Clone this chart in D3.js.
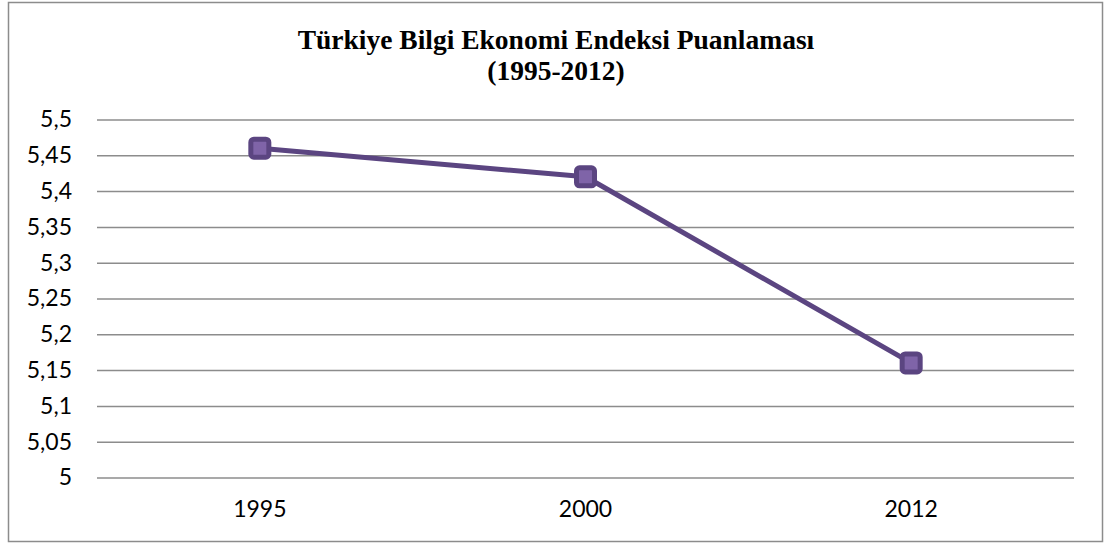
<!DOCTYPE html>
<html><head><meta charset="utf-8">
<script src="https://cdn.jsdelivr.net/npm/d3@7/dist/d3.min.js"></script>
<style>body{margin:0;background:#fff;}svg{display:block;}</style>
</head><body>
<svg id="c" width="1109" height="545"></svg>
<script>
const categories = ["1995", "2000", "2012"];
const values = [5.46, 5.42, 5.16];
const yTicks = [5, 5.05, 5.1, 5.15, 5.2, 5.25, 5.3, 5.35, 5.4, 5.45, 5.5];
const titleLines = ["Türkiye Bilgi Ekonomi Endeksi Puanlaması", "(1995-2012)"];

const svg = d3.select("#c");
svg.append("rect").attr("x", 8.5).attr("y", 2.5).attr("width", 1094).attr("height", 539)
  .attr("fill", "#fff").attr("stroke", "#8c8c8c").attr("stroke-width", 1.5);

const m = {left: 97, right: 1074, top: 119.5, bottom: 477.5};
const x = d3.scaleBand().domain(categories).range([m.left, m.right]);
const y = d3.scaleLinear().domain([5, 5.5]).range([m.bottom, m.top]);

const fmt = d => String(d).replace(".", ",");
const tickFont = "Lato, 'Open Sans', sans-serif";

const yAxis = svg.append("g").attr("transform", `translate(${m.left},0)`)
  .call(d3.axisLeft(y).tickValues(yTicks).tickFormat(fmt).tickSize(-(m.right - m.left)).tickPadding(25));
yAxis.select(".domain").remove();
yAxis.selectAll(".tick line").attr("stroke", "#8c8c8c").attr("stroke-width", 1.5);
yAxis.selectAll(".tick text").attr("font-family", tickFont).attr("font-size", 23).attr("fill", "#000");

const xAxis = svg.append("g").attr("transform", `translate(0,${m.bottom})`)
  .call(d3.axisBottom(x).tickSize(0).tickPadding(23));
xAxis.select(".domain").remove();
xAxis.selectAll(".tick text").attr("font-family", tickFont).attr("font-size", 23).attr("fill", "#000");

const line = d3.line().x((d, i) => x(categories[i]) + x.bandwidth() / 2).y(d => y(d));
svg.append("path").datum(values).attr("d", line).attr("fill", "none")
  .attr("stroke", "#5b4581").attr("stroke-width", 5).attr("stroke-linejoin", "round");

svg.selectAll("rect.mk").data(values).join("rect").attr("class", "mk")
  .attr("x", (d, i) => x(categories[i]) + x.bandwidth() / 2 - 9)
  .attr("y", d => y(d) - 9).attr("width", 18).attr("height", 18).attr("rx", 3)
  .attr("fill", "#7f64a8").attr("stroke", "#5b4581").attr("stroke-width", 5);

svg.selectAll("text.title").data(titleLines).join("text").attr("class", "title")
  .attr("x", 556).attr("y", (d, i) => 49 + i * 31).attr("text-anchor", "middle")
  .attr("font-family", "'Liberation Serif', 'Times New Roman', serif").attr("font-weight", "bold")
  .attr("font-size", 27.5).attr("fill", "#000").text(d => d);
</script>
</body></html>
